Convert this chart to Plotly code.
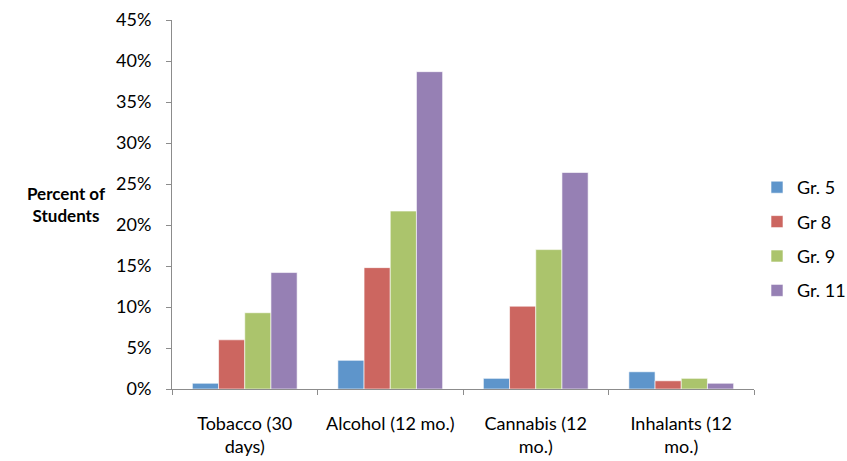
import plotly.graph_objects as go

categories = ["Tobacco (30<br>days)", "Alcohol (12 mo.)", "Cannabis (12<br>mo.)", "Inhalants (12<br>mo.)"]
series_names = ["Gr. 5", "Gr 8", "Gr. 9", "Gr. 11"]
gr5 = [0.7, 3.5, 1.3, 2.1]
gr8 = [6.0, 14.8, 10.1, 1.0]
gr9 = [9.3, 21.7, 17.0, 1.3]
gr11 = [14.2, 38.7, 26.4, 0.7]
series_values = [gr5, gr8, gr9, gr11]
colors = ["#5E95CB", "#CC6660", "#ABC46C", "#9680B4"]
y_ticks = [0, 5, 10, 15, 20, 25, 30, 35, 40, 45]

font_family = "Lato, 'Open Sans', sans-serif"

# plot area in pixels
W, H = 847, 461
ML, MR, MT, MB = 172, 93, 20, 72
plot_w = W - ML - MR
plot_h = H - MT - MB

fig = go.Figure()
for i, (name, vals, col) in enumerate(zip(series_names, series_values, colors)):
    fig.add_trace(go.Bar(
        x=categories, y=vals, name=name,
        marker=dict(color=col, line=dict(color="rgba(255,255,255,0.6)", width=1)),
        legendgroup=f"g{i}",
    ))

fig.update_layout(
    width=W, height=H,
    margin=dict(l=ML, r=MR, t=MT, b=MB, autoexpand=False),
    paper_bgcolor="white", plot_bgcolor="white",
    barmode="group", bargap=0.28, bargroupgap=0,
    font=dict(family=font_family, size=18, color="#000000"),
    showlegend=True,
    legend=dict(
        x=(757 - ML) / plot_w, y=(H - MB - 239) / plot_h,
        xanchor="left", yanchor="middle",
        font=dict(size=18), tracegroupgap=8,
        traceorder="grouped", itemwidth=30,
        bgcolor="rgba(0,0,0,0)",
    ),
    xaxis=dict(
        showline=True, linecolor="#8C8C8C", linewidth=1,
        ticks="outside", tickson="boundaries", ticklen=5, tickcolor="#8C8C8C",
        showgrid=False, tickfont=dict(size=18), ticklabelstandoff=18,
    ),
    yaxis=dict(
        range=[0, 45], tickvals=y_ticks, ticktext=[f"{v}%" for v in y_ticks],
        showline=True, linecolor="#8C8C8C", linewidth=1,
        ticks="outside", ticklen=5, tickcolor="#8C8C8C",
        showgrid=False, zeroline=False, tickfont=dict(size=18),
        ticklabelstandoff=11,
    ),
    annotations=[dict(
        text="<b>Percent of<br>Students</b>",
        x=(66 - ML) / plot_w, y=(H - MB - 205) / plot_h,
        xref="paper", yref="paper", xanchor="center", yanchor="middle",
        showarrow=False, font=dict(size=17), align="center",
    )],
)

fig.write_html("out.html")
